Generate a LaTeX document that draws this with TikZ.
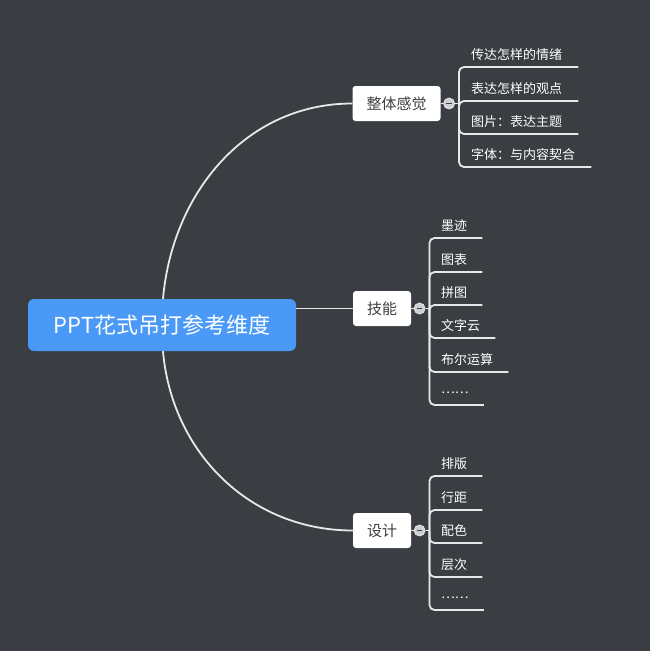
\documentclass[tikz,border=0pt]{standalone}
\usepackage{fontspec}
\setmainfont{Noto Sans CJK SC}
\usetikzlibrary{positioning}

\definecolor{bgcol}{RGB}{58,61,66}
\definecolor{linecol}{RGB}{232,232,232}
\definecolor{rootcol}{RGB}{74,153,246}
\definecolor{topictext}{RGB}{64,64,64}
\definecolor{foldcol}{RGB}{205,208,212}

\begin{document}
\begin{tikzpicture}[x=1pt,y=1pt,
    root/.style={fill=rootcol,rounded corners=6pt,text=white,minimum width=268pt,minimum height=52pt,font=\fontsize{22}{26}\selectfont},
    topic/.style={fill=white,rounded corners=3pt,text=topictext,minimum height=35pt,inner xsep=14pt,font=\fontsize{15}{18}\selectfont},
    fold/.style={circle,fill=foldcol,draw=linecol,line width=0.8pt,minimum size=11pt,inner sep=0pt,
      path picture={\draw[topictext,line width=1.3pt] ([xshift=-2.8pt]path picture bounding box.center) -- ([xshift=2.8pt]path picture bounding box.center);}},
    leaf/.style={anchor=south west,inner xsep=0pt,inner ysep=6pt,text=white,font=\fontsize{13}{15}\selectfont},
    limb/.style={draw=linecol,line width=1.8pt},
    twig/.style={draw=linecol,line width=1.8pt,rounded corners=5pt}]
   \fill[bgcol] (0,0) rectangle (650,-651);

   \node[root] (root) at (162,-325) {PPT花式吊打参考维度};
   \node[topic] (feel) at (396.5,-103.5) {整体感觉};
   \node[topic] (skill) at (382,-308.5) {技能};
   \node[topic] (design) at (382,-530.5) {设计};

    \path[limb] ([xshift=1pt]root.north) to[out=85,in=180] (feel.west);
    \path[limb] (root.east |- skill.west) -- (skill.west);
    \path[limb] ([xshift=1pt]root.south) to[out=-85,in=180] (design.west);

   % folding buttons
   \node[fold] (feelfold) [right=2.5pt of feel] {};
   \node[fold] (skillfold) [right=2.5pt of skill] {};
   \node[fold] (designfold) [right=2.5pt of design] {};
    \path[limb] (feel) -- (feelfold);
    \path[limb] (skill) -- (skillfold);
    \path[limb] (design) -- (designfold);
   \coordinate[right=4pt of feelfold.east] (feelhub);
   \coordinate[right=4pt of skillfold.east] (skillhub);
   \coordinate[right=4pt of designfold.east] (designhub);
    \path[limb] (feelfold) -- (feelhub);
    \path[limb] (skillfold) -- (skillhub);
    \path[limb] (designfold) -- (designhub);

   % leaves
   \node[leaf] (f1) at (471,-67) {传达怎样的情绪};
   \node[leaf] (f2) at (471,-101) {表达怎样的观点};
   \node[leaf] (f3) at (471,-134) {图片：表达主题};
   \node[leaf] (f4) at (471,-167) {字体：与内容契合};

   \node[leaf] (s1) at (441,-238) {墨迹};
   \node[leaf] (s2) at (441,-272) {图表};
   \node[leaf] (s3) at (441,-305) {拼图};
   \node[leaf] (s4) at (441,-338) {文字云};
   \node[leaf] (s5) at (441,-372) {布尔运算};
   \node[leaf] (s6) at (441,-405) {\raisebox{5pt}{……}};

   \node[leaf] (d1) at (441,-476) {排版};
   \node[leaf] (d2) at (441,-510) {行距};
   \node[leaf] (d3) at (441,-543) {配色};
   \node[leaf] (d4) at (441,-577) {层次};
   \node[leaf] (d5) at (441,-610) {\raisebox{5pt}{……}};

    \path[twig] (feelhub) |- ([xshift=16pt]f1.south east);
    \path[twig] (feelhub) |- ([xshift=16pt]f2.south east);
    \path[twig] (feelhub) |- ([xshift=16pt]f3.south east);
    \path[twig] (feelhub) |- ([xshift=16pt]f4.south east);

    \path[twig] (skillhub) |- ([xshift=15pt]s1.south east);
    \path[twig] (skillhub) |- ([xshift=15pt]s2.south east);
    \path[twig] (skillhub) |- ([xshift=15pt]s3.south east);
    \path[twig] (skillhub) |- ([xshift=15pt]s4.south east);
    \path[twig] (skillhub) |- ([xshift=15pt]s5.south east);
    \path[twig] (skillhub) |- ([xshift=15pt]s6.south east);

    \path[twig] (designhub) |- ([xshift=15pt]d1.south east);
    \path[twig] (designhub) |- ([xshift=15pt]d2.south east);
    \path[twig] (designhub) |- ([xshift=15pt]d3.south east);
    \path[twig] (designhub) |- ([xshift=15pt]d4.south east);
    \path[twig] (designhub) |- ([xshift=15pt]d5.south east);
\end{tikzpicture}
\end{document}
